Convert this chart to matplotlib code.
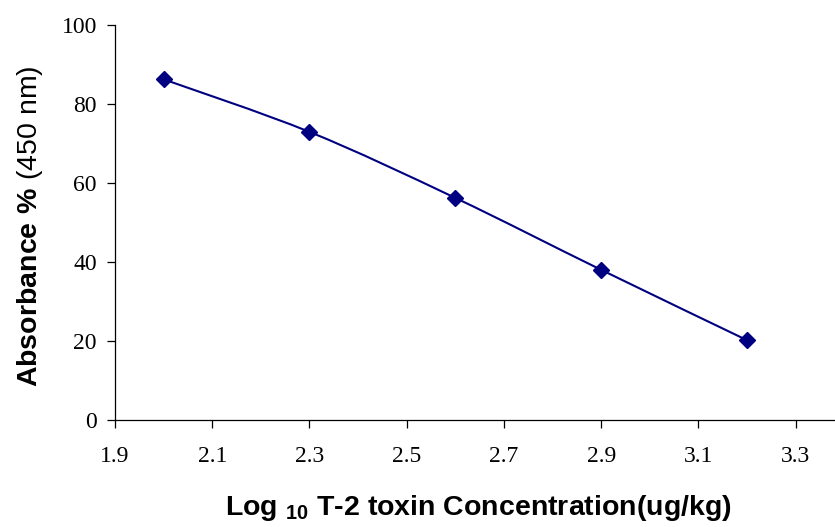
import matplotlib
matplotlib.use("Agg")
import matplotlib.pyplot as plt
from matplotlib.path import Path
from matplotlib.patches import PathPatch

# log10 concentration vs absorbance %
log_conc = [2.0, 2.3, 2.6, 2.9, 3.2]
absorbance = [86.2, 72.9, 56.2, 38.0, 20.2]
x_ticks = [1.9, 2.1, 2.3, 2.5, 2.7, 2.9, 3.1, 3.3]
y_ticks = [0, 20, 40, 60, 80, 100]

plt.rcParams['mathtext.fontset'] = 'custom'
plt.rcParams['mathtext.bf'] = 'Liberation Sans:bold'
plt.rcParams['mathtext.rm'] = 'Liberation Sans'

NAVY = '#000080'


def smooth_path(xs, ys):
    """Excel style smoothed line as cubic bezier segments"""
    pts = list(zip(xs, ys))
    n = len(pts)
    verts = [pts[0]]
    codes = [Path.MOVETO]
    for i in range(n - 1):
        p0 = pts[i - 1] if i > 0 else pts[i]
        p1 = pts[i]
        p2 = pts[i + 1]
        p3 = pts[i + 2] if i + 2 < n else pts[i + 1]
        c1 = (p1[0] + (p2[0] - p0[0]) / 6, p1[1] + (p2[1] - p0[1]) / 6)
        c2 = (p2[0] - (p3[0] - p1[0]) / 6, p2[1] - (p3[1] - p1[1]) / 6)
        verts += [c1, c2, p2]
        codes += [Path.CURVE4] * 3
    return Path(verts, codes)


fig = plt.figure(figsize=(8.35, 5.27), dpi=100)
ax = fig.add_axes([0.1377, 0.203, 0.8623, 0.750])

ax.add_patch(PathPatch(smooth_path(log_conc, absorbance), facecolor='none',
                       edgecolor=NAVY, linewidth=1.5))
ax.plot(log_conc, absorbance, linestyle='none', marker='D', markersize=8,
        color=NAVY)

ax.set_xlim(1.9, 3.381)
ax.set_ylim(0, 100)
ax.set_xticks(x_ticks)
ax.set_xticklabels([f"{t:.1f}" for t in x_ticks])
ax.set_yticks(y_ticks)

for s in ['top', 'right']:
    ax.spines[s].set_visible(False)
for s in ['left', 'bottom']:
    ax.spines[s].set_linewidth(0.9)

ax.tick_params(axis='x', direction='out', length=6, width=0.9, pad=13,
               labelsize=17)
ax.tick_params(axis='y', direction='out', length=6, width=0.9, pad=7,
               labelsize=17)
for lab in ax.get_xticklabels() + ax.get_yticklabels():
    lab.set_fontfamily('Liberation Serif')

fig.text(478 / 835, 1 - 508 / 527,
         r"Log $_{\mathbf{10}}$ T-2 toxin Concentration(ug/kg)",
         fontfamily='Liberation Sans', fontweight='bold', fontsize=20.5,
         ha='center', va='center')
fig.text(30 / 835, 1 - 226 / 527, r"$\mathbf{Absorbance\ \%}$ (450 nm)",
         fontfamily='Liberation Sans', fontsize=20.5, rotation=90,
         ha='center', va='center')

fig.savefig("out.png", dpi=100)
